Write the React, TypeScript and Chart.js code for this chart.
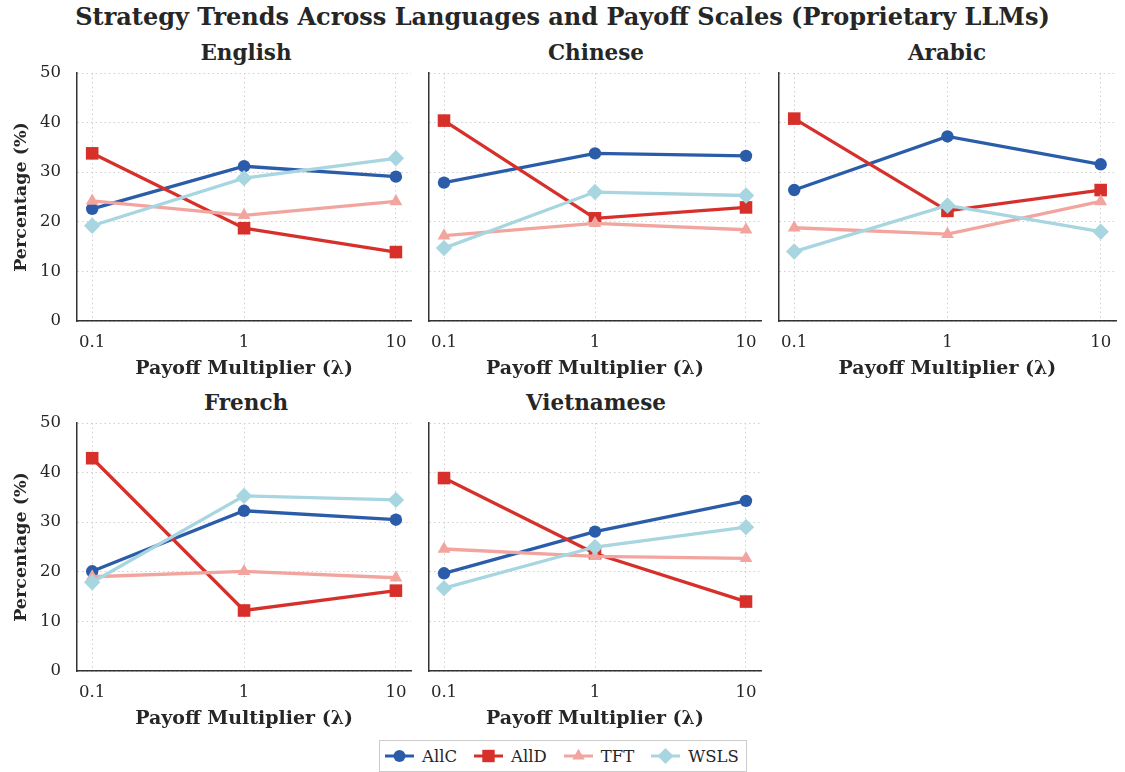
import React, { useEffect, useRef } from 'react';
import { Chart, registerables } from 'chart.js';

Chart.register(...registerables);

// Payoff multipliers (x axis, log-spaced)
const LAMBDAS = [0.1, 1, 10];
const STRATEGIES = ['AllC', 'AllD', 'TFT', 'WSLS'];
const COLORS = ['#2b5ca9', '#d7302b', '#f2a59f', '#a7d5e0'];
const MARKERS = ['circle', 'rect', 'triangle', 'rectRot'];
const MARKER_RADII = [6.2, 8.9, 7.4, 8.2];
const Y_TICKS = [0, 10, 20, 30, 40, 50];

// Strategy shares (%) per language, ordered by LAMBDAS
const englishAllC = [22.6, 31.2, 29.1];
const englishAllD = [33.8, 18.7, 13.9];
const englishTFT = [24.2, 21.3, 24.1];
const englishWSLS = [19.2, 28.8, 32.8];

const chineseAllC = [27.9, 33.8, 33.3];
const chineseAllD = [40.4, 20.7, 22.9];
const chineseTFT = [17.2, 19.7, 18.4];
const chineseWSLS = [14.7, 26.0, 25.3];

const arabicAllC = [26.4, 37.2, 31.6];
const arabicAllD = [40.8, 22.2, 26.4];
const arabicTFT = [18.8, 17.5, 24.1];
const arabicWSLS = [14.0, 23.3, 18.0];

const frenchAllC = [20.1, 32.3, 30.5];
const frenchAllD = [42.9, 12.2, 16.2];
const frenchTFT = [19.0, 20.1, 18.8];
const frenchWSLS = [17.9, 35.3, 34.5];

const vietnameseAllC = [19.7, 28.1, 34.3];
const vietnameseAllD = [38.9, 23.7, 14.0];
const vietnameseTFT = [24.6, 23.1, 22.7];
const vietnameseWSLS = [16.7, 25.0, 29.0];

const FONT = 'DejaVu Serif';
const TEXT = '#262626';
const GRID = '#cfcfcf';
const SPINE = '#333333';

type PanelSpec = {
  name: string;
  series: number[][];
  left: number;
  top: number;
  width: number;
  padL: number;
  padR: number;
  yAxisW: number;
  showY: boolean;
};

const PANEL_H = 330;

const PANELS: PanelSpec[] = [
  { name: 'English', series: [englishAllC, englishAllD, englishTFT, englishWSLS], left: 0, top: 60, width: 420, padL: 11, padR: 5, yAxisW: 66, showY: true },
  { name: 'Chinese', series: [chineseAllC, chineseAllD, chineseTFT, chineseWSLS], left: 420, top: 60, width: 350, padL: 0, padR: 5, yAxisW: 7, showY: false },
  { name: 'Arabic', series: [arabicAllC, arabicAllD, arabicTFT, arabicWSLS], left: 770, top: 60, width: 355, padL: 0, padR: 9, yAxisW: 8, showY: false },
  { name: 'French', series: [frenchAllC, frenchAllD, frenchTFT, frenchWSLS], left: 0, top: 410, width: 420, padL: 11, padR: 5, yAxisW: 66, showY: true },
  { name: 'Vietnamese', series: [vietnameseAllC, vietnameseAllD, vietnameseTFT, vietnameseWSLS], left: 420, top: 410, width: 350, padL: 0, padR: 5, yAxisW: 7, showY: false },
];

function Panel({ spec }: { spec: PanelSpec }) {
  const ref = useRef<HTMLCanvasElement>(null);

  useEffect(() => {
    if (!ref.current) return;
    const pad = Math.pow(10, 0.1);
    const chart = new Chart(ref.current, {
      type: 'line',
      data: {
        datasets: STRATEGIES.map((label, i) => ({
          label,
          data: LAMBDAS.map((x, j) => ({ x, y: spec.series[i][j] })),
          borderColor: COLORS[i],
          backgroundColor: COLORS[i],
          borderWidth: 3.3,
          pointStyle: MARKERS[i] as any,
          pointRadius: MARKER_RADII[i],
          pointBorderWidth: 0,
          pointHoverRadius: MARKER_RADII[i],
          tension: 0,
          order: STRATEGIES.length - 1 - i,
        })),
      },
      options: {
        responsive: false,
        maintainAspectRatio: false,
        animation: false,
        events: [],
        layout: { padding: { left: spec.padL, right: spec.padR, top: 13, bottom: 10 } },
        plugins: {
          legend: { display: false },
          tooltip: { enabled: false },
          title: { display: false },
        },
        scales: {
          x: {
            type: 'logarithmic',
            min: LAMBDAS[0] / pad,
            max: LAMBDAS[LAMBDAS.length - 1] * pad,
            afterBuildTicks: (scale: any) => {
              scale.ticks = LAMBDAS.map((value) => ({ value }));
            },
            afterFit: (scale: any) => {
              scale.height = 59;
              scale.paddingLeft = 0;
              scale.paddingRight = 0;
            },
            ticks: {
              autoSkip: false,
              maxRotation: 0,
              padding: 12,
              color: TEXT,
              font: { family: FONT, size: 16.5 },
              callback: (v: any) => String(v),
            },
            grid: { color: GRID, lineWidth: 1, drawTicks: false },
            border: { display: true, color: SPINE, width: 1.5, dash: [1.5, 3] },
            title: {
              display: true,
              text: 'Payoff Multiplier (λ)',
              color: TEXT,
              padding: 0,
              font: { family: FONT, size: 19, weight: 'bold' },
            },
          },
          y: {
            min: Y_TICKS[0],
            max: Y_TICKS[Y_TICKS.length - 1],
            afterBuildTicks: (scale: any) => {
              scale.ticks = Y_TICKS.map((value) => ({ value }));
            },
            afterFit: (scale: any) => {
              scale.width = spec.yAxisW;
              scale.paddingTop = 0;
              scale.paddingBottom = 0;
            },
            ticks: {
              display: spec.showY,
              padding: 16,
              color: TEXT,
              font: { family: FONT, size: 16.5 },
            },
            grid: { color: GRID, lineWidth: 1, drawTicks: false },
            border: { display: true, color: SPINE, width: 1.5, dash: [1.5, 3] },
            title: {
              display: spec.showY,
              text: 'Percentage (%)',
              color: TEXT,
              padding: 0,
              font: { family: FONT, size: 17.5, weight: 'bold' },
            },
          },
        },
      } as any,
    });
    return () => chart.destroy();
  }, [spec]);

  return (
    <>
      <div
        style={{
          position: 'absolute',
          left: spec.left + spec.padL + spec.yAxisW,
          width: spec.width - spec.padL - spec.yAxisW - spec.padR,
          top: spec.top - 20,
          height: 26,
          lineHeight: '26px',
          textAlign: 'center',
          fontFamily: FONT,
          fontWeight: 'bold',
          fontSize: 21.5,
          color: TEXT,
          whiteSpace: 'nowrap',
        }}
      >
        {spec.name}
      </div>
      <canvas
        ref={ref}
        width={spec.width}
        height={PANEL_H}
        style={{ position: 'absolute', left: spec.left, top: spec.top, width: spec.width, height: PANEL_H }}
      />
    </>
  );
}

function LegendIcon({ index }: { index: number }) {
  const c = COLORS[index];
  const cx = 14.5;
  const cy = 8;
  let marker: React.ReactNode = null;
  if (MARKERS[index] === 'circle') marker = <circle cx={cx} cy={cy} r={6} fill={c} />;
  if (MARKERS[index] === 'rect') marker = <rect x={cx - 6.2} y={cy - 6.2} width={12.4} height={12.4} fill={c} />;
  if (MARKERS[index] === 'triangle')
    marker = <polygon points={`${cx},${cy - 7.2} ${cx + 6.2},${cy + 3.6} ${cx - 6.2},${cy + 3.6}`} fill={c} />;
  if (MARKERS[index] === 'rectRot')
    marker = <polygon points={`${cx - 8},${cy} ${cx},${cy - 8} ${cx + 8},${cy} ${cx},${cy + 8}`} fill={c} />;
  return (
    <svg width={29} height={16} style={{ display: 'block' }}>
      <line x1={0} y1={cy} x2={29} y2={cy} stroke={c} strokeWidth={3} />
      {marker}
    </svg>
  );
}

export default function App() {
  return (
    <div
      style={{
        position: 'absolute',
        left: 0,
        top: 0,
        width: 1125,
        height: 772,
        background: '#ffffff',
        overflow: 'hidden',
      }}
    >
      <div
        style={{
          position: 'absolute',
          left: 0,
          top: 2,
          width: 1125,
          height: 30,
          lineHeight: '30px',
          textAlign: 'center',
          fontFamily: FONT,
          fontWeight: 'bold',
          fontSize: 24,
          color: TEXT,
          whiteSpace: 'nowrap',
        }}
      >
        Strategy Trends Across Languages and Payoff Scales (Proprietary LLMs)
      </div>
      {PANELS.map((p) => (
        <Panel key={p.name} spec={p} />
      ))}
      <div
        style={{
          position: 'absolute',
          left: 379,
          top: 740,
          height: 30,
          display: 'flex',
          alignItems: 'center',
          border: '1px solid #cccccc',
          background: '#ffffff',
          padding: '0 7px 0 5px',
          fontFamily: FONT,
          fontSize: 16.5,
          color: TEXT,
        }}
      >
        {STRATEGIES.map((s, i) => (
          <div key={s} style={{ display: 'flex', alignItems: 'center', marginLeft: i === 0 ? 0 : 17 }}>
            <LegendIcon index={i} />
            <span style={{ marginLeft: 8 }}>{s}</span>
          </div>
        ))}
      </div>
    </div>
  );
}
